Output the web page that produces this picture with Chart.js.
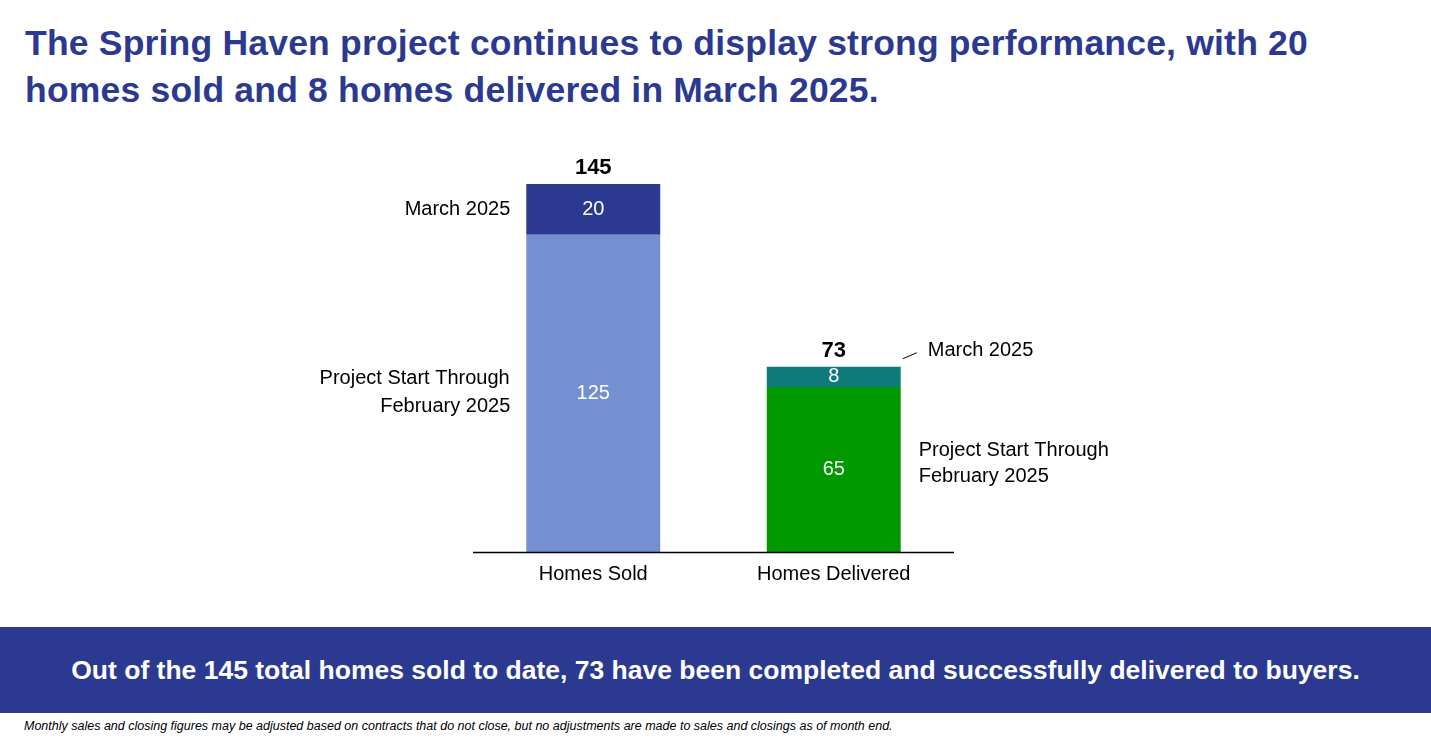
<!DOCTYPE html>
<html><head><meta charset="utf-8">
<script src="https://cdn.jsdelivr.net/npm/chart.js@4"></script>
<style>
body{margin:0;width:1431px;height:741px;background:#fff;font-family:Arial,"Liberation Sans",sans-serif;position:relative;overflow:hidden}
#title{position:absolute;left:25px;top:20px;width:1400px;color:#2B3990;font-weight:bold;font-size:35.5px;line-height:47px;letter-spacing:0.2px}
#wrap{position:absolute;left:300px;top:140px;width:900px;height:440px}
#banner{position:absolute;left:0;top:627px;width:1431px;height:86px;background:#2B3990;color:#fff;font-weight:bold;font-size:26.5px;display:flex;align-items:center;justify-content:center}
#foot{position:absolute;left:24px;top:719px;font-style:italic;font-size:12.5px;color:#000}
</style></head><body>
<div id="title">The Spring Haven project continues to display strong performance, with 20 homes sold and 8 homes delivered in March 2025.</div>
<div id="wrap"><canvas id="c"></canvas></div>
<div id="banner">Out of the 145 total homes sold to date, 73 have been completed and successfully delivered to buyers.</div>
<div id="foot">Monthly sales and closing figures may be adjusted based on contracts that do not close, but no adjustments are made to sales and closings as of month end.</div>
<script>
const categories = ["Homes Sold", "Homes Delivered"];
const priorValues = [125, 65];
const marchValues = [20, 8];
const totals = [145, 73];
const priorColors = ["#7590D0", "#009A00"];
const marchColors = ["#2B3990", "#0E7B7A"];

const labelsPlugin = {
  id: 'labels',
  afterDraw(chart) {
    const ctx = chart.ctx, x = chart.scales.x, y = chart.scales.y, ca = chart.chartArea;
    ctx.save();
    ctx.strokeStyle = '#000'; ctx.lineWidth = 1.5;
    ctx.beginPath(); ctx.moveTo(ca.left, ca.bottom + 0.5); ctx.lineTo(ca.right, ca.bottom + 0.5); ctx.stroke();
    ctx.textBaseline = 'middle';
    categories.forEach((c, i) => {
      const cx = x.getPixelForValue(i);
      ctx.fillStyle = '#000'; ctx.textAlign = 'center'; ctx.font = '20px Arial, "Liberation Sans"';
      ctx.fillText(c, cx, ca.bottom + 22);
      ctx.fillStyle = '#fff';
      ctx.fillText(String(priorValues[i]), cx, (y.getPixelForValue(0) + y.getPixelForValue(priorValues[i])) / 2);
      ctx.fillText(String(marchValues[i]), cx, (y.getPixelForValue(priorValues[i]) + y.getPixelForValue(totals[i])) / 2);
      ctx.fillStyle = '#000'; ctx.font = 'bold 22px Arial, "Liberation Sans"';
      ctx.fillText(String(totals[i]), cx, y.getPixelForValue(totals[i]) - 16);
    });
    ctx.font = '20px Arial, "Liberation Sans"'; ctx.fillStyle = '#000';
    const bw = 134;
    const l0 = x.getPixelForValue(0) - bw / 2 - 16;
    ctx.textAlign = 'right';
    ctx.fillText('March 2025', l0, (y.getPixelForValue(125) + y.getPixelForValue(145)) / 2);
    const m0 = (y.getPixelForValue(0) + y.getPixelForValue(125)) / 2;
    ctx.fillText('Project Start Through ', l0 + 5, m0 - 15);
    ctx.fillText('February 2025', l0, m0 + 13);
    const r1 = x.getPixelForValue(1) + bw / 2;
    ctx.textAlign = 'left';
    ctx.fillText('March 2025', r1 + 27, y.getPixelForValue(73) - 16);
    ctx.lineWidth = 1; ctx.beginPath(); ctx.moveTo(r1 + 2, y.getPixelForValue(73) - 8); ctx.lineTo(r1 + 16, y.getPixelForValue(73) - 14); ctx.stroke();
    ctx.fillText('Project Start Through', r1 + 18, y.getPixelForValue(65) + 63);
    ctx.fillText('February 2025', r1 + 18, y.getPixelForValue(65) + 89);
    ctx.restore();
  }
};

new Chart(document.getElementById('c'), {
  type: 'bar',
  data: {
    labels: categories,
    datasets: [
      { data: priorValues, backgroundColor: priorColors, barPercentage: 0.557, categoryPercentage: 1 },
      { data: marchValues, backgroundColor: marchColors, barPercentage: 0.557, categoryPercentage: 1 }
    ]
  },
  options: {
    responsive: true, maintainAspectRatio: false, animation: false,
    layout: { padding: { left: 173, right: 246, top: 44, bottom: 28 } },
    plugins: { legend: { display: false }, tooltip: { enabled: false } },
    scales: {
      x: { stacked: true, display: false },
      y: { stacked: true, display: false, min: 0, max: 145 }
    }
  },
  plugins: [labelsPlugin]
});
</script>
</body></html>
